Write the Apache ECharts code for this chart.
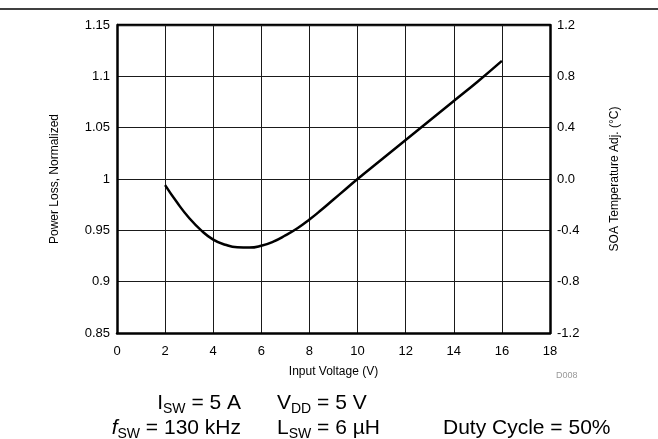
<!DOCTYPE html>
<html>
<head>
<meta charset="utf-8">
<script src="https://cdn.jsdelivr.net/npm/echarts@6/dist/echarts.min.js"></script>
<style>
  html, body { margin: 0; padding: 0; background: #fff; }
  #chart { width: 658px; height: 439px; }
</style>
</head>
<body>
<div id="chart"></div>
<script>
// Input voltage (V) and normalized power loss
const inputVoltage = [2, 2.5, 3, 3.5, 4, 4.5, 5, 5.5, 6, 6.5, 7, 7.5, 8, 8.5, 9, 9.5, 10, 11, 12, 13, 14, 15, 16];
const powerLoss = [0.994, 0.977, 0.962, 0.950, 0.941, 0.936, 0.9335, 0.9332, 0.935, 0.939, 0.945, 0.952, 0.9605, 0.970, 0.980, 0.990, 1.000, 1.019, 1.038, 1.057, 1.076, 1.095, 1.115];

// Axis ranges
const xTicks = { min: 0, max: 18, step: 2 };
const leftTicks = { min: 0.85, max: 1.15, step: 0.05 };
const rightTicks = { min: -1.2, max: 1.2, step: 0.4 };

const FONT = '"Liberation Sans", Arial, sans-serif';
const chart = echarts.init(document.getElementById('chart'));

const gridLine = { show: true, lineStyle: { color: '#1a1a1a', width: 1 } };
const frame = { show: true, onZero: false, lineStyle: { color: '#000', width: 2.5 } };
const labelStyle = { color: '#000', fontFamily: FONT, fontSize: 13 };

const main = { fontFamily: FONT, fontSize: 21, color: '#000', verticalAlign: 'middle', lineHeight: 24 };
const sub = { fontFamily: FONT, fontSize: 14, color: '#000', verticalAlign: 'bottom', lineHeight: 25 };
const ital = Object.assign({}, main, { fontStyle: 'italic' });

function cond(x, y, str, align) {
  return {
    type: 'text', left: align === 'right' ? undefined : x, right: align === 'right' ? 658 - x : undefined, top: y,
    style: { text: str, rich: { m: main, s: sub, i: ital }, font: '21px ' + FONT }
  };
}

chart.setOption({
  animation: false,
  grid: { left: 117, right: 108, top: 25, bottom: 106 },
  xAxis: {
    type: 'value', min: xTicks.min, max: xTicks.max, interval: xTicks.step,
    axisLine: frame, axisTick: { show: false }, splitLine: gridLine,
    axisLabel: Object.assign({ margin: 12 }, labelStyle),
    name: 'Input Voltage (V)', nameLocation: 'middle', nameGap: 33,
    nameTextStyle: { color: '#000', fontFamily: FONT, fontSize: 12 }
  },
  yAxis: [
    {
      type: 'value', min: leftTicks.min, max: leftTicks.max, interval: leftTicks.step,
      axisLine: frame, axisTick: { show: false }, splitLine: gridLine,
      axisLabel: Object.assign({ margin: 7, formatter: v => String(+v.toFixed(2)) }, labelStyle),
      name: 'Power Loss, Normalized', nameLocation: 'middle', nameGap: 56,
      nameTextStyle: { color: '#000', fontFamily: FONT, fontSize: 12 }
    },
    {
      type: 'value', position: 'right', min: rightTicks.min, max: rightTicks.max, interval: rightTicks.step,
      axisLine: frame, axisTick: { show: false }, splitLine: { show: false },
      axisLabel: Object.assign({ margin: 7, formatter: v => v.toFixed(1) }, labelStyle),
      name: 'SOA Temperature Adj. (°C)', nameLocation: 'middle', nameGap: 59,
      nameTextStyle: { color: '#000', fontFamily: FONT, fontSize: 12 }
    }
  ],
  series: [{
    type: 'line', yAxisIndex: 0, smooth: 0.5, showSymbol: false,
    lineStyle: { color: '#000', width: 2.5 },
    data: inputVoltage.map((v, i) => [v, powerLoss[i]])
  }],
  graphic: [
    // top border of the axis frame
    { type: 'line', shape: { x1: 117, y1: 25, x2: 550, y2: 25 }, style: { stroke: '#000', lineWidth: 2.5 } },
    // rule across the top of the figure
    { type: 'line', shape: { x1: 0, y1: 9, x2: 658, y2: 9 }, style: { stroke: '#000', lineWidth: 1.5 } },
    { type: 'text', left: 556, top: 371, style: { text: 'D008', fill: '#999', font: '9px ' + FONT } },
    cond(241, 393, '{m|I}{s|SW}{m| = 5 A}', 'right'),
    cond(277, 393, '{m|V}{s|DD}{m| = 5 V}'),
    cond(241, 418, '{i|f}{s|SW}{m| = 130 kHz}', 'right'),
    cond(277, 418, '{m|L}{s|SW}{m| = 6 µH}'),
    cond(443, 418, '{m|Duty Cycle = 50%}')
  ]
});
</script>
</body>
</html>
